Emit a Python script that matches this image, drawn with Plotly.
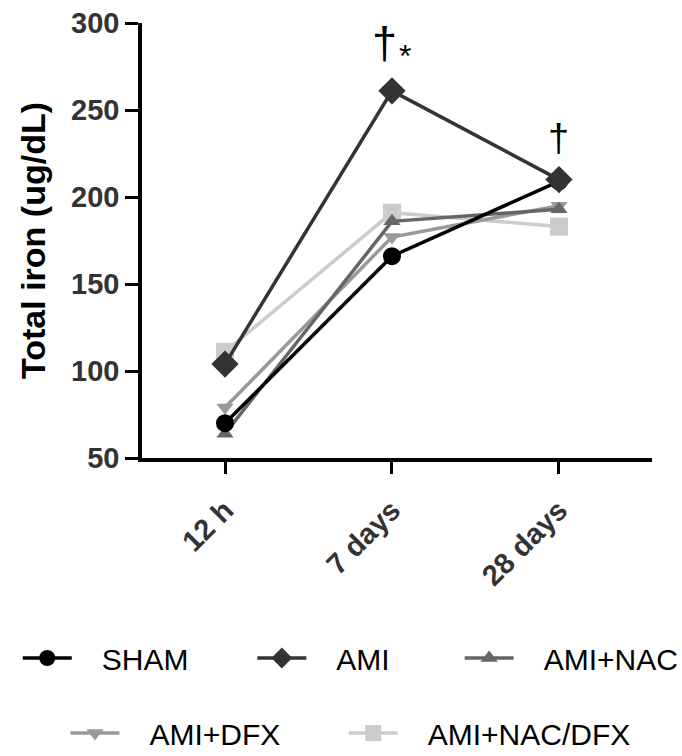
import plotly.graph_objects as go

categories = ["12 h", "7 days", "28 days"]
series_names = ["SHAM", "AMI", "AMI+NAC", "AMI+DFX", "AMI+NAC/DFX"]
sham = [70, 166, 209]
ami = [104, 261, 210]
ami_nac = [64, 186, 193]
ami_dfx = [79, 177, 195]
ami_nac_dfx = [111, 191, 183]
y_ticks = [50, 100, 150, 200, 250, 300]

values = {"SHAM": sham, "AMI": ami, "AMI+NAC": ami_nac,
          "AMI+DFX": ami_dfx, "AMI+NAC/DFX": ami_nac_dfx}
colors = {"SHAM": "#000000", "AMI": "#333333", "AMI+NAC": "#666666",
          "AMI+DFX": "#999999", "AMI+NAC/DFX": "#cccccc"}
symbols = {"SHAM": "circle", "AMI": "diamond", "AMI+NAC": "triangle-up",
           "AMI+DFX": "triangle-down", "AMI+NAC/DFX": "square"}
sizes = {"SHAM": 18, "AMI": 21, "AMI+NAC": 15, "AMI+DFX": 15, "AMI+NAC/DFX": 18}
legend_ids = {"SHAM": "legend", "AMI": "legend2", "AMI+NAC": "legend3",
              "AMI+DFX": "legend4", "AMI+NAC/DFX": "legend5"}
# legend positions (container coords)
legend_pos = {"legend": (0.026, 0.1296), "legend2": (0.370, 0.1296),
              "legend3": (0.674, 0.1296), "legend4": (0.096, 0.0304),
              "legend5": (0.504, 0.0304)}

draw_order = ["AMI+NAC/DFX", "AMI+DFX", "AMI+NAC", "SHAM", "AMI"]
x_idx = list(range(len(categories)))

fig = go.Figure()
for name in draw_order:
    fig.add_trace(go.Scatter(
        x=x_idx, y=values[name], mode="lines+markers",
        name="\u00a0\u00a0\u00a0" + name,
        line=dict(color=colors[name], width=3.5),
        marker=dict(symbol=symbols[name], size=sizes[name], color=colors[name],
                    line=dict(width=0)),
        legend=legend_ids[name],
    ))

layout_legends = {}
for lid, (lx, ly) in legend_pos.items():
    layout_legends[lid] = dict(
        x=lx, y=ly, xref="container", yref="container",
        xanchor="left", yanchor="middle",
        orientation="h", itemwidth=49, bgcolor="rgba(0,0,0,0)",
        font=dict(family="Liberation Sans, Arial, sans-serif", size=30, color="#000"),
    )

fig.update_layout(
    width=682, height=756,
    margin=dict(l=142, r=30, t=23, b=298, autoexpand=False),
    plot_bgcolor="white", paper_bgcolor="white",
    showlegend=True,
    **layout_legends,
)

fig.update_xaxes(
    range=[-0.497, 2.557], automargin=False,
    tickmode="array", tickvals=x_idx, ticktext=categories,
    tickangle=-45, ticklabelstandoff=8,
    showline=True, linecolor="#000", linewidth=3.5,
    ticks="outside", ticklen=12, tickwidth=3, tickcolor="#000",
    showgrid=False, zeroline=False,
    tickfont=dict(family="Liberation Sans, Arial, sans-serif", size=29,
                  color="#333333", weight="bold"),
)
fig.update_yaxes(
    range=[50, 300], automargin=False,
    tickmode="array", tickvals=y_ticks,
    showline=True, linecolor="#000", linewidth=3.5,
    ticks="outside", ticklen=13, tickwidth=3, tickcolor="#000",
    showgrid=False, zeroline=False,
    tickfont=dict(family="Liberation Sans, Arial, sans-serif", size=29,
                  color="#333333", weight="bold"),
    title=dict(text="Total iron (ug/dL)", standoff=16,
               font=dict(family="Liberation Sans, Arial, sans-serif", size=34,
                         color="#000", weight="bold")),
)

fig.add_annotation(x=1, y=289, text="†", showarrow=False, xshift=-7,
                   font=dict(family="Liberation Sans, Arial, sans-serif", size=45, color="#000"))
fig.add_annotation(x=1, y=281, text="*", showarrow=False, xshift=13,
                   font=dict(family="Liberation Sans, Arial, sans-serif", size=32, color="#000"))
fig.add_annotation(x=2, y=234, text="†", showarrow=False, xshift=0,
                   font=dict(family="Liberation Sans, Arial, sans-serif", size=38, color="#000"))

fig.write_html("out.html")
